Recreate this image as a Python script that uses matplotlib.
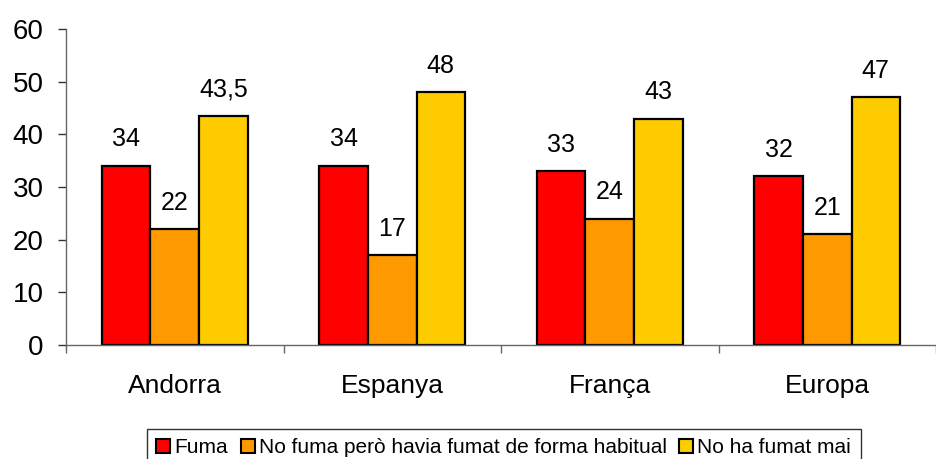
import numpy as np
import matplotlib.pyplot as plt

plt.rcParams['font.family'] = ['Liberation Sans', 'DejaVu Sans']

# data
countries = ['Andorra', 'Espanya', 'França', 'Europa']
series_names = ['Fuma', 'No fuma però havia fumat de forma habitual', 'No ha fumat mai']
fuma = [34, 34, 33, 32]
ex_fumadors = [22, 17, 24, 21]
mai = [43.5, 48, 43, 47]
colors = ['#FF0000', '#FF9900', '#FFCC00']

fig = plt.figure(figsize=(9.36, 4.59), dpi=100)
ax = fig.add_axes([66 / 936, 114 / 459, 870 / 936, 316 / 459])

x = np.arange(len(countries))
w = 0.223
for i, (vals, name, c) in enumerate(zip([fuma, ex_fumadors, mai], series_names, colors)):
    pos = x + (i - 1) * w
    ax.bar(pos, vals, width=w, color=c, edgecolor='black', linewidth=1.6, label=name)
    for px, v in zip(pos, vals):
        lbl = ('%g' % v).replace('.', ',')
        ax.annotate(lbl, (px, v), xytext=(0, 14), textcoords='offset points',
                    ha='center', va='baseline', fontsize=18)

ax.set_xlim(-0.5, 3.5 - 10 / 220)
ax.set_ylim(0, 60)
ax.set_yticks(range(0, 61, 10))
ax.set_xticks(np.arange(-0.5, 4, 1))
ax.set_xticklabels([])
ax.set_xticks(x, minor=True)
ax.set_xticklabels(countries, minor=True)
ax.tick_params(axis='x', which='minor', length=0, labelsize=19, pad=21)
ax.tick_params(axis='x', which='major', length=6, width=1, color='#666666', direction='out')
ax.tick_params(axis='y', length=6, width=1, color='#333333', labelsize=20, pad=10)

for s in ['top', 'right']:
    ax.spines[s].set_visible(False)
for s in ['left', 'bottom']:
    ax.spines[s].set_color('#666666')
    ax.spines[s].set_linewidth(1)

leg = fig.legend(loc='upper left', bbox_to_anchor=(147 / 936, 30 / 459), ncol=3,
                 fontsize=15, frameon=True, fancybox=False, edgecolor='black',
                 handlelength=0.67, handleheight=0.67, handletextpad=0.2,
                 columnspacing=0.6, borderpad=0.45, borderaxespad=0)
leg.get_frame().set_linewidth(1)
for h in leg.legend_handles:
    h.set_linewidth(1.5)

fig.savefig('out.png', dpi=100)
